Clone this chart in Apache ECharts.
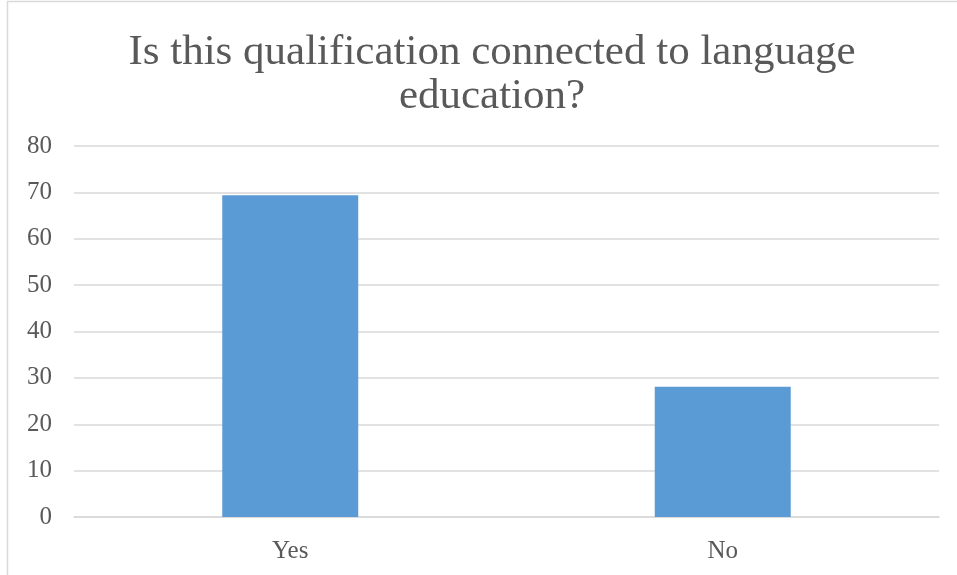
<!DOCTYPE html>
<html>
<head>
<meta charset="utf-8">
<style>
  html, body { margin: 0; padding: 0; background: #ffffff; }
  #chart { width: 957px; height: 575px; }
</style>
<script src="https://cdn.jsdelivr.net/npm/echarts@6/dist/echarts.min.js"></script>
</head>
<body>
<div id="chart"></div>
<script>
// Survey answers
var categories = ['Yes', 'No'];
var responses = [69.4, 28.1];
var yTicks = { min: 0, max: 80, interval: 10 };

var chart = echarts.init(document.getElementById('chart'), null, { renderer: 'canvas' });
var serif = '"Liberation Serif", "Times New Roman", serif';

chart.setOption({
  animation: false,
  backgroundColor: '#ffffff',
  title: {
    text: 'Is this qualification connected to language\neducation?',
    left: 487,
    top: 26,
    textAlign: 'center',
    textStyle: {
      fontFamily: serif,
      fontSize: 43,
      fontWeight: 'normal',
      color: '#595959',
      lineHeight: 44
    }
  },
  graphic: [{
    type: 'rect',
    silent: true,
    shape: { x: 7.5, y: 1.5, width: 1100, height: 1100 },
    style: { fill: 'none', stroke: '#d9d9d9', lineWidth: 1.5 }
  }],
  grid: { left: 74, right: 18, top: 146, bottom: 58, containLabel: false },
  xAxis: {
    type: 'category',
    data: categories,
    axisTick: { show: false },
    axisLine: { show: true, lineStyle: { color: '#d9d9d9', width: 1.5 } },
    axisLabel: { margin: 22, fontFamily: serif, fontSize: 25, color: '#595959' }
  },
  yAxis: {
    type: 'value',
    min: yTicks.min,
    max: yTicks.max,
    interval: yTicks.interval,
    axisLine: { show: false },
    axisTick: { show: false },
    splitLine: { lineStyle: { color: '#d9d9d9', width: 1.5 } },
    axisLabel: { margin: 22, fontFamily: serif, fontSize: 25, color: '#595959' }
  },
  series: [{
    type: 'bar',
    data: responses,
    barWidth: 136,
    itemStyle: { color: '#5b9bd5' }
  }]
});
</script>
</body>
</html>
